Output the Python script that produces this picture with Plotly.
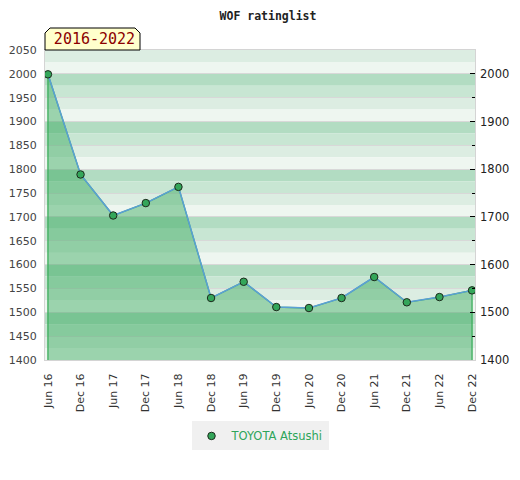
"""
WOF ratinglist chart for a single player, Jun 2016 - Dec 2022.
Banded green background, filled area under the rating line.
"""

import plotly.graph_objects as go

PLAYER = "TOYOTA Atsushi"
PERIOD = "2016-2022"

DATES = ["Jun 16", "Dec 16", "Jun 17", "Dec 17", "Jun 18", "Dec 18", "Jun 19",
         "Dec 19", "Jun 20", "Dec 20", "Jun 21", "Dec 21", "Jun 22", "Dec 22"]
RATINGS = [1999, 1789, 1703, 1729, 1763, 1530, 1564,
           1511, 1509, 1530, 1574, 1521, 1532, 1546]

Y_MIN, Y_MAX = 1400, 2050

# band colours inside each 100-point block, from the top of the block down
BAND_COLORS = ["#b2dcc2", "#c8e6d3", "#dcede2", "#eef6f0"]

LINE_BLUE = "#5b9fd6"
FILL_GREEN = "rgba(46,165,85,0.43)"
EDGE_GREEN = "#3cae5c"
MARKER_GREEN = "#34a65a"
AXIS_GREY = "#d4d4d4"
FONT = "DejaVu Sans"


def build_figure():
    fig = go.Figure()

    # area under the rating line (closed to the bottom of the axis)
    fig.add_trace(go.Scatter(
        x=[DATES[0]] + DATES + [DATES[-1]],
        y=[Y_MIN] + RATINGS + [Y_MIN],
        mode="lines", fill="toself", fillcolor=FILL_GREEN,
        line=dict(color=EDGE_GREEN, width=1.3),
        showlegend=False, hoverinfo="skip",
    ))
    fig.add_trace(go.Scatter(
        x=DATES, y=RATINGS, mode="lines",
        line=dict(color=LINE_BLUE, width=1.5),
        showlegend=False, hoverinfo="skip",
    ))
    fig.add_trace(go.Scatter(
        x=DATES, y=RATINGS, mode="markers", name=PLAYER,
        marker=dict(size=7.5, color=MARKER_GREEN,
                    line=dict(color="#1c2a1c", width=1)),
    ))
    # invisible copy so the right-hand axis gets drawn
    fig.add_trace(go.Scatter(
        x=DATES, y=RATINGS, yaxis="y2", mode="lines",
        line=dict(width=0), opacity=0, showlegend=False, hoverinfo="skip",
    ))

    # horizontal background bands, 25 points each
    for top in range(Y_MAX + 50, Y_MIN, -100):
        for i, color in enumerate(BAND_COLORS):
            hi = top - 25 * i
            lo = hi - 25
            if hi <= Y_MIN or lo >= Y_MAX:
                continue
            fig.add_shape(type="rect", xref="paper", yref="y",
                          x0=0, x1=1, y0=max(lo, Y_MIN), y1=min(hi, Y_MAX),
                          fillcolor=color, line_width=0, layer="below")

    # period tag: yellow box with clipped top corners, sitting on the plot
    fig.add_shape(type="path", xref="paper", yref="paper",
                  xsizemode="pixel", ysizemode="pixel", xanchor=0, yanchor=1,
                  path="M0,0 L0,17 L5,22 L90,22 L95,17 L95,0 Z",
                  fillcolor="#ffffcc", line=dict(color="#000000", width=1),
                  layer="above")
    fig.add_annotation(
        text=PERIOD, xref="paper", yref="paper", x=0, y=1,
        xanchor="left", yanchor="bottom", showarrow=False,
        xshift=0, yshift=0, width=95, align="center",
        font=dict(family="DejaVu Sans Mono", size=15, color="#8b0000"),
    )

    fig.update_layout(
        width=520, height=480,
        margin=dict(l=37, r=53, t=42, b=128, autoexpand=False),
        paper_bgcolor="white", plot_bgcolor="white",
        title=dict(text="WOF ratinglist", x=0.5, xanchor="center",
                   y=0.992, yanchor="top",
                   font=dict(family="DejaVu Sans Mono", size=11.5,
                             color="#222", weight="bold")),
        font=dict(family=FONT, size=11, color="#444"),
        showlegend=True,
        legend=dict(orientation="h", x=0.5, xanchor="center",
                    y=-0.245, yanchor="middle", bgcolor="#f0f0f0",
                    itemwidth=30,
                    font=dict(size=11.5, color="#2ea55a")),
        xaxis=dict(type="category", range=[-0.09, len(DATES) - 1 + 0.09],
                   tickangle=-90, showgrid=False, ticks="",
                   ticklabelstandoff=8,
                   showline=True, linecolor=AXIS_GREY, mirror=True,
                   tickfont=dict(size=11, color="#333")),
        yaxis=dict(range=[Y_MIN, Y_MAX], dtick=50, showgrid=True,
                   gridcolor="#d8d8d8", gridwidth=1, zeroline=False,
                   ticklabelstandoff=5,
                   showline=True, linecolor=AXIS_GREY, mirror=True,
                   tickfont=dict(size=11, color="#444")),
        yaxis2=dict(range=[Y_MIN, Y_MAX], overlaying="y", side="right",
                    dtick=100, showgrid=False, zeroline=False,
                    ticks="inside", ticklen=5, tickcolor="#000",
                    ticklabelstandoff=4,
                    minor=dict(dtick=50, ticks="inside", ticklen=3,
                               tickcolor="#000", showgrid=False),
                    tickfont=dict(size=11.5, color="#222")),
    )
    return fig


if __name__ == "__main__":
    fig = build_figure()
    fig.write_html("out.html")
